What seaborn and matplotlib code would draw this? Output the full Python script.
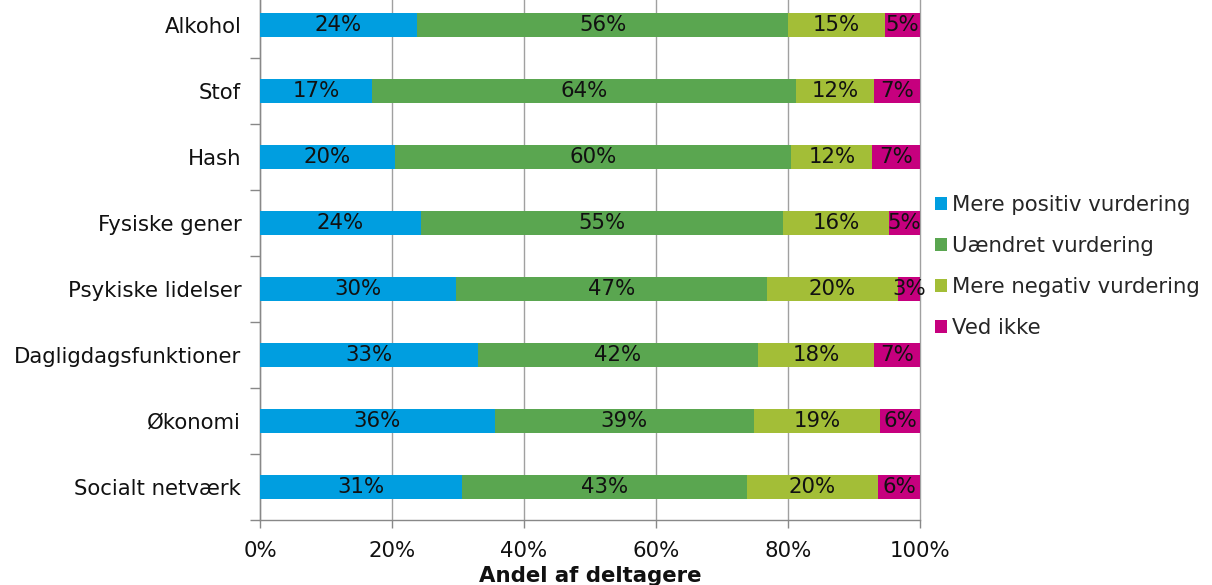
import matplotlib
matplotlib.use("Agg")
import matplotlib.pyplot as plt
import seaborn as sns
import pandas as pd
import numpy as np
from matplotlib.patches import Patch

categories = ["Alkohol", "Stof", "Hash", "Fysiske gener", "Psykiske lidelser",
              "Dagligdagsfunktioner", "Økonomi", "Socialt netværk"]
series_names = ["Mere positiv vurdering", "Uændret vurdering",
                "Mere negativ vurdering", "Ved ikke"]
positiv = [23.8, 17.0, 20.4, 24.4, 29.7, 33.0, 35.6, 30.6]
uaendret = [56.2, 64.2, 60.1, 54.8, 47.1, 42.4, 39.2, 43.2]
negativ = [14.7, 11.8, 12.3, 16.1, 19.9, 17.7, 19.2, 19.8]
vedikke = [5.3, 7.0, 7.2, 4.7, 3.3, 6.9, 6.0, 6.4]
labels = [
    ["24%", "56%", "15%", "5%"],
    ["17%", "64%", "12%", "7%"],
    ["20%", "60%", "12%", "7%"],
    ["24%", "55%", "16%", "5%"],
    ["30%", "47%", "20%", "3%"],
    ["33%", "42%", "18%", "7%"],
    ["36%", "39%", "19%", "6%"],
    ["31%", "43%", "20%", "6%"],
]
xticks = [0, 20, 40, 60, 80, 100]
xticklabels = ["0%", "20%", "40%", "60%", "80%", "100%"]
colors = ["#009EE0", "#5AA650", "#A3BE37", "#C6007E"]

sns.set_theme(style="white")
plt.rcParams["font.family"] = ["DejaVu Sans"]

W, H = 1212, 585
fig = plt.figure(figsize=(W / 100, H / 100), dpi=100)
ax = fig.add_axes([260 / W, 65 / H, 660 / W, 528 / H])

series = [positiv, uaendret, negativ, vedikke]
cum = np.cumsum(np.array(series), axis=0)
df = pd.DataFrame({"cat": categories})
for i in range(3, -1, -1):
    df["v"] = cum[i]
    sns.barplot(data=df, x="v", y="cat", order=categories, color=colors[i],
                saturation=1, width=0.35, orient="h", ax=ax, zorder=3,
                linewidth=0, errorbar=None)

for r in range(len(categories)):
    start = 0.0
    for i in range(4):
        v = series[i][r]
        ax.text(start + v / 2, r, labels[r][i], ha="center", va="center",
                fontsize=15.3, color="#111111", zorder=5)
        start += v

ax.set_xlim(0, 100)
ax.set_ylim(len(categories) - 0.5, -0.5)
ax.set_xticks(xticks)
ax.set_xticklabels(xticklabels, fontsize=15.3, color="#111111")
ax.set_yticks(range(len(categories)))
ax.set_yticklabels(categories, fontsize=15.3, color="#111111")
ax.set_yticks(np.arange(-0.5, len(categories), 1.0), minor=True)
ax.tick_params(axis="y", which="major", length=0, pad=13.5)
ax.tick_params(axis="y", which="minor", length=7, color="#888888", width=1, direction="out", left=True)
ax.tick_params(axis="x", which="major", length=6, color="#888888", width=1, direction="out", bottom=True, pad=9)
ax.set_ylabel("")
ax.set_xlabel("Andel af deltagere", fontsize=15.3, fontweight="bold", color="#111111", labelpad=4)
ax.grid(axis="x", color="#A0A0A0", linewidth=1, zorder=0)
ax.grid(axis="y", visible=False)
for gl in ax.get_xgridlines():
    gl.set_clip_on(False)
ax.set_axisbelow(True)
for s in ["top", "right"]:
    ax.spines[s].set_visible(False)
for s in ["left", "bottom"]:
    ax.spines[s].set_color("#888888")
    ax.spines[s].set_linewidth(1)

handles = [Patch(facecolor=c, edgecolor="none") for c in colors]
fig.legend(handles, series_names, loc="center left",
           bbox_to_anchor=(935 / W, 1 - 266.5 / H), frameon=False,
           fontsize=15.3, handlelength=0.55, handleheight=0.55,
           handletextpad=0.25, labelspacing=0.98, borderpad=0, borderaxespad=0)

fig.savefig("out.png", dpi=100)
